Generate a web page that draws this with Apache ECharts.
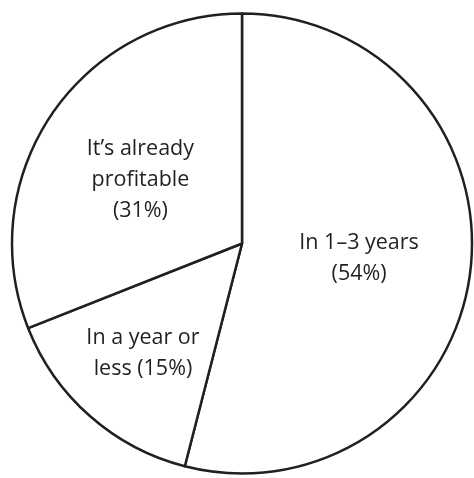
<!DOCTYPE html>
<html>
<head>
<meta charset="utf-8">
<script src="https://cdn.jsdelivr.net/npm/echarts@6/dist/echarts.min.js"></script>
<style>
html,body{margin:0;padding:0;background:#fff;}
#chart{width:474px;height:478px;}
</style>
</head>
<body>
<div id="chart"></div>
<script>
var categories = ['In 1\u20133 years', 'In a year or\nless', 'It\u2019s already\nprofitable'];
var values = [54, 15, 31];
var percentSeparator = ['\n', ' ', '\n'];

var labelOffsets = [[0, 0], [-21, 21], [-4, 3]];

var chart = echarts.init(document.getElementById('chart'), null, {renderer: 'canvas'});
var data = categories.map(function (name, i) {
  return {
    name: name,
    value: values[i],
    label: { offset: labelOffsets[i] }
  };
});

chart.setOption({
  animation: false,
  backgroundColor: '#ffffff',
  series: [{
    type: 'pie',
    center: [242, 243.5],
    radius: [0, 230],
    startAngle: 90,
    clockwise: true,
    data: data,
    itemStyle: {
      color: '#ffffff',
      borderColor: '#231f20',
      borderWidth: 2.5
    },
    emphasis: { disabled: true },
    label: {
      show: true,
      position: 'inside',
      fontFamily: 'Open Sans',
      fontSize: 21.5,
      lineHeight: 31,
      color: '#231f20',
      align: 'center',
      formatter: function (p) {
        return p.name + percentSeparator[p.dataIndex] + '(' + p.value + '%)';
      }
    },
    labelLine: { show: false }
  }]
});
</script>
</body>
</html>
